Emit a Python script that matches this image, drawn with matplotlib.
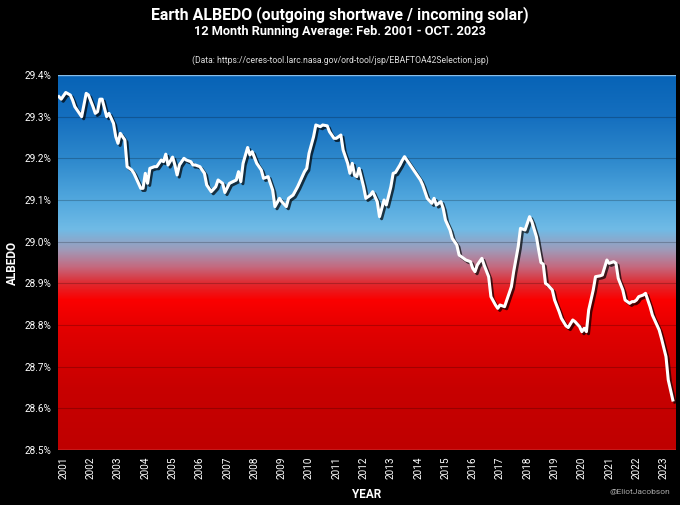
import numpy as np
import matplotlib
matplotlib.use("Agg")
import matplotlib.pyplot as plt
import matplotlib.patheffects as pe
from matplotlib.colors import LinearSegmentedColormap

# ---- data (month index from start of record, albedo in %) ----
months = [0, 1, 3, 5, 6, 7, 10, 12, 13, 15, 16, 17, 18, 19, 21, 22, 24, 25, 26, 27, 29,
          30, 32, 33, 35, 36, 37, 38, 39, 40, 42, 43, 45, 46, 47, 48, 50, 51, 52, 53, 55,
          56, 58, 59, 60, 62, 64, 65, 67, 69, 70, 72, 73, 75, 78, 79, 80, 81, 83, 84, 85,
          87, 89, 90, 92, 94, 95, 97, 98, 100, 101, 103, 105, 108, 109, 110, 112, 113, 115,
          116, 118, 119, 121, 122, 124, 125, 127, 128, 129, 130, 131, 132, 134, 135, 137,
          138, 140, 141, 143, 144, 146, 147, 148, 150, 151, 152, 154, 155, 157, 159, 160,
          162, 164, 165, 166, 168, 169, 170, 172, 173, 175, 176, 178, 179, 181, 182, 183,
          184, 186, 187, 189, 190, 192, 193, 194, 196, 197, 199, 200, 202, 203, 205, 206,
          207, 208, 210, 211, 212, 213, 214, 215, 217, 218, 220, 221, 223, 224, 226, 227,
          229, 230, 231, 232, 233, 235, 236, 238, 239, 241, 242, 244, 245, 246, 248, 249,
          251, 252, 253, 254, 255, 257, 258, 260, 261, 262, 264, 265, 267, 268, 270]
albedo = [29.348, 29.342, 29.358, 29.352, 29.340, 29.324, 29.300, 29.356, 29.352, 29.324,
          29.308, 29.312, 29.342, 29.342, 29.300, 29.308, 29.284, 29.252, 29.236, 29.260,
          29.244, 29.180, 29.172, 29.164, 29.140, 29.128, 29.128, 29.164, 29.140, 29.176,
          29.180, 29.180, 29.196, 29.192, 29.210, 29.184, 29.203, 29.184, 29.160, 29.184,
          29.200, 29.196, 29.192, 29.184, 29.184, 29.180, 29.164, 29.136, 29.120, 29.132,
          29.148, 29.140, 29.118, 29.140, 29.148, 29.168, 29.144, 29.188, 29.226, 29.208,
          29.216, 29.188, 29.172, 29.152, 29.156, 29.124, 29.084, 29.104, 29.096, 29.084,
          29.104, 29.112, 29.132, 29.168, 29.176, 29.212, 29.252, 29.280, 29.276, 29.280,
          29.278, 29.264, 29.248, 29.248, 29.256, 29.220, 29.188, 29.164, 29.188, 29.160,
          29.156, 29.176, 29.132, 29.104, 29.112, 29.120, 29.096, 29.060, 29.100, 29.088,
          29.132, 29.164, 29.166, 29.184, 29.195, 29.204, 29.188, 29.180, 29.164, 29.148,
          29.136, 29.104, 29.092, 29.104, 29.088, 29.096, 29.080, 29.052, 29.028, 29.008,
          28.992, 28.968, 28.960, 28.956, 28.952, 28.936, 28.928, 28.944, 28.960, 28.944,
          28.916, 28.868, 28.848, 28.840, 28.848, 28.844, 28.860, 28.892, 28.928, 28.988,
          29.032, 29.028, 29.044, 29.060, 29.048, 29.012, 28.980, 28.950, 28.946, 28.900,
          28.896, 28.884, 28.860, 28.832, 28.816, 28.798, 28.794, 28.812, 28.808, 28.796,
          28.784, 28.792, 28.784, 28.836, 28.884, 28.916, 28.918, 28.920, 28.956, 28.948,
          28.952, 28.948, 28.912, 28.884, 28.860, 28.852, 28.856, 28.856, 28.860, 28.868,
          28.872, 28.876, 28.844, 28.824, 28.812, 28.788, 28.768, 28.724, 28.668, 28.620]
year_labels = [str(y) for y in range(2001, 2024)]
y_ticks = [28.5, 28.6, 28.7, 28.8, 28.9, 29.0, 29.1, 29.2, 29.3, 29.4]

plt.rcParams['font.family'] = ['Roboto', 'DejaVu Sans']

fig = plt.figure(figsize=(6.8, 5.05), dpi=100, facecolor='black')
ax = fig.add_axes([58/680, 1-450/505, 618/680, 375/505])
ax.set_facecolor('black')

ymin, ymax = 28.5, 29.4
xmin, xmax = -0.4, 271.4

# background gradient (by albedo value)
stops = [
    (28.50, '#bf0000'),
    (28.65, '#c80000'),
    (28.78, '#e00000'),
    (28.86, '#fb0000'),
    (28.90, '#e02a30'),
    (28.94, '#c46a80'),
    (28.98, '#a09ab8'),
    (29.03, '#70bbe6'),
    (29.10, '#52a8de'),
    (29.20, '#2d88cc'),
    (29.30, '#156fbf'),
    (29.40, '#0763b6'),
]
cmap = LinearSegmentedColormap.from_list(
    'alb', [((v - ymin) / (ymax - ymin), c) for v, c in stops])
grad = np.linspace(0, 1, 512).reshape(-1, 1)
ax.imshow(grad, aspect='auto', cmap=cmap, origin='lower',
          extent=[xmin, xmax, ymin, ymax], zorder=0, interpolation='bilinear')

for v in y_ticks[1:-1]:
    ax.axhline(v, color='#000000', alpha=0.22, lw=0.8, zorder=1)
ax.axhline(ymax, color='#a8d4f4', lw=1.0, alpha=0.8, zorder=1)
ax.axhline(ymin, color='#f0a0a0', lw=1.0, alpha=0.8, zorder=1)

ax.plot(months, albedo, color='white', lw=2.2, zorder=3, solid_joinstyle='round',
        path_effects=[pe.SimpleLineShadow(offset=(1.5, -1.5), shadow_color='black', alpha=0.7),
                      pe.Normal()])

ax.set_xlim(xmin, xmax)
ax.set_ylim(ymin, ymax)
ax.set_yticks(y_ticks)
ax.set_yticklabels([f'{v:.1f}%' for v in y_ticks], color='white', fontsize=7.2)
ax.set_xticks([2 + 12 * k for k in range(len(year_labels))])
ax.set_xticklabels(year_labels, rotation=90, color='white', fontsize=7.2)
ax.tick_params(length=0, pad=5)
for s in ax.spines.values():
    s.set_visible(False)

ax.set_ylabel('ALBEDO', color='white', fontsize=8.5, fontweight='bold', labelpad=4)
ax.set_xlabel('YEAR', color='white', fontsize=8.5, fontweight='bold', labelpad=6)

fig.text(0.5, 1-15/505, 'Earth ALBEDO (outgoing shortwave / incoming solar)',
         color='white', fontsize=11.4, fontweight='bold', ha='center', va='center')
fig.text(0.5, 1-32/505, '12 Month Running Average: Feb. 2001 - OCT. 2023',
         color='white', fontsize=9.2, fontweight='bold', ha='center', va='center')
fig.text(0.5, 1-60/505, '(Data: https://ceres-tool.larc.nasa.gov/ord-tool/jsp/EBAFTOA42Selection.jsp)',
         color='#dddddd', fontsize=6.2, ha='center', va='center')
fig.text(670/680, 1-492/505, '@EliotJacobson', color='#aaaaaa', fontsize=6,
         ha='right', va='center')

fig.savefig('out.png', dpi=100, facecolor='black')
